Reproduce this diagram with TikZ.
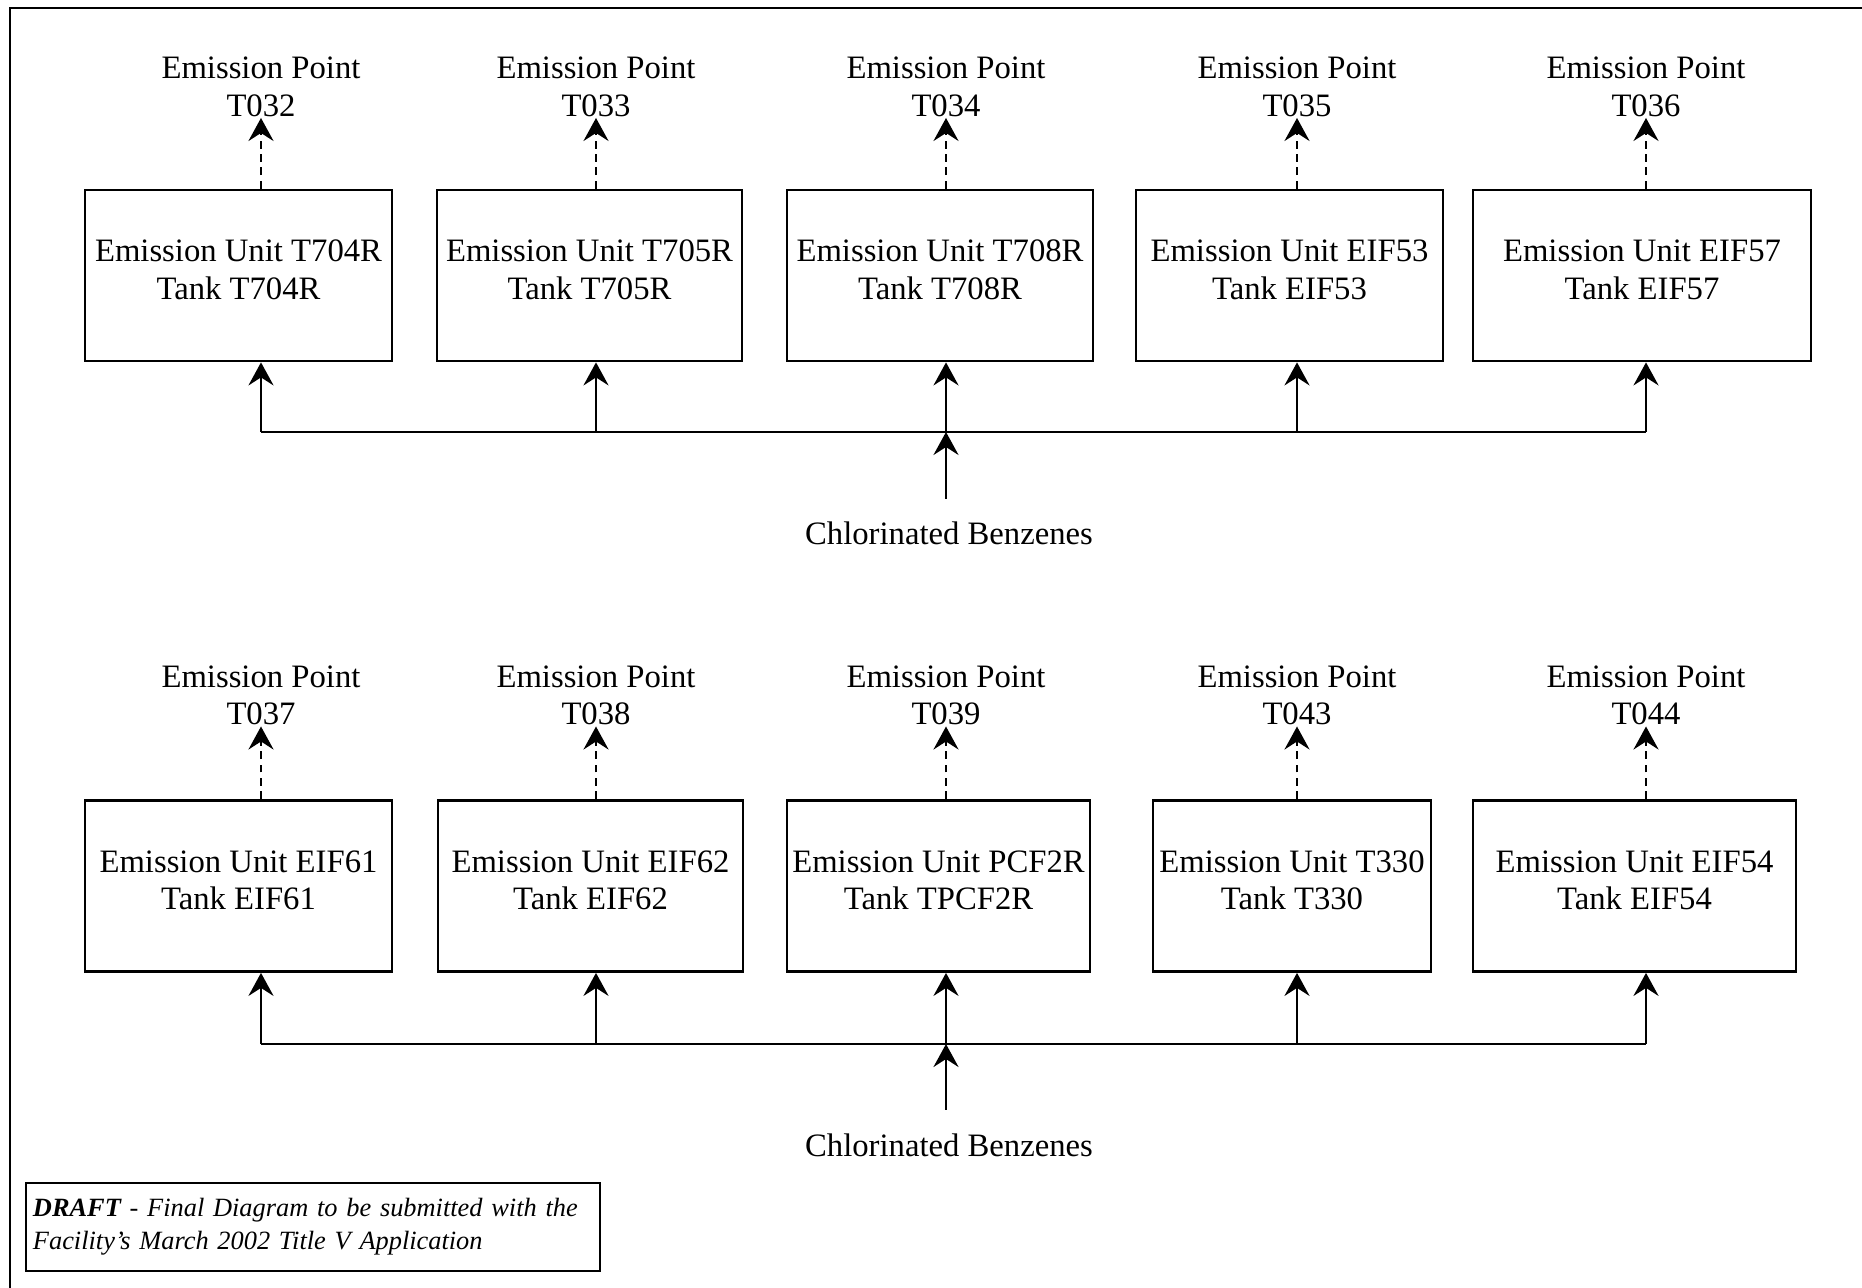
\documentclass[tikz,border=0pt]{standalone}
\usepackage{fontspec}
\setmainfont{Liberation Serif}
\usetikzlibrary{arrows.meta}

\begin{document}
\begin{tikzpicture}[line width=0.8pt,
    font=\fontsize{9.3}{10.7}\selectfont,
    unitbox/.style={draw, align=center, inner xsep=0.5pt, text depth=0.12cm, minimum height=1.71cm},
    ptlabel/.style={align=center, anchor=south, inner sep=0pt},
    flow/.style={-{Stealth[length=2.3mm,width=2.5mm,inset=0.8mm]}},
    vent/.style={flow, dash pattern=on 2.2pt off 1.6pt}]

    \useasboundingbox (0,0) rectangle (18.62,12.88);
    \draw (0.10,0) -- (0.10,12.80) -- (18.62,12.80);

    % upper train
    \foreach \i/\bx/\bw/\ax/\unit/\tank/\pt in {
      1/2.385/3.07/2.61/T704R/T704R/T032,
      2/5.895/3.05/5.96/T705R/T705R/T033,
      3/9.40/3.06/9.46/T708R/T708R/T034,
      4/12.895/3.07/12.97/EIF53/EIF53/T035,
      5/16.42/3.38/16.46/EIF57/EIF57/T036
    }{
      \node[unitbox, minimum width=\bw cm] (u\i) at (\bx,10.125) {Emission Unit \unit\\Tank \tank};
      \node[ptlabel] (p\i) at (\ax,11.70) {Emission Point\\\pt};
      \draw[vent] (u\i.north -| p\i) -- (p\i);
    }

    % lower train
    \foreach \i/\bx/\bw/\ax/\unit/\tank/\pt in {
      6/2.385/3.07/2.61/EIF61/EIF61/T037,
      7/5.905/3.05/5.96/EIF62/EIF62/T038,
      8/9.385/3.03/9.46/PCF2R/TPCF2R/T039,
      9/12.92/2.78/12.97/T330/T330/T043,
      10/16.345/3.23/16.46/EIF54/EIF54/T044
    }{
      \node[unitbox, minimum width=\bw cm] (u\i) at (\bx,4.02) {Emission Unit \unit\\Tank \tank};
      \node[ptlabel] (p\i) at (\ax,5.615) {Emission Point\\\pt};
      \draw[vent] (u\i.north -| p\i) -- (p\i);
    }

    % feed headers
    \coordinate (busA) at (0,8.56);
    \coordinate (busB) at (0,2.44);
    \draw (busA -| p1) -- (busA -| p5);
    \draw (busB -| p6) -- (busB -| p10);
    \foreach \i in {1,...,5} \draw[flow] (busA -| p\i) -- (u\i.south -| p\i);
    \foreach \i in {6,...,10} \draw[flow] (busB -| p\i) -- (u\i.south -| p\i);

    \coordinate (feedA) at (9.46,7.89);
    \coordinate (feedB) at (9.46,1.78);
    \draw[flow] (feedA) -- (feedA |- busA);
    \draw[flow] (feedB) -- (feedB |- busB);
    \node (cbA) at (9.49,7.55) {Chlorinated Benzenes};
    \node (cbB) at (9.49,1.43) {Chlorinated Benzenes};

    \node[draw, align=left, text width=5.60cm, inner xsep=0.07cm, minimum height=0.88cm,
      font=\fontsize{7.5}{9.4}\selectfont\itshape] (draft) at (3.13,0.61)
      {\textbf{DRAFT} - Final Diagram to be submitted with the\\Facility's March 2002 Title V Application};
  \end{tikzpicture}
\end{document}
